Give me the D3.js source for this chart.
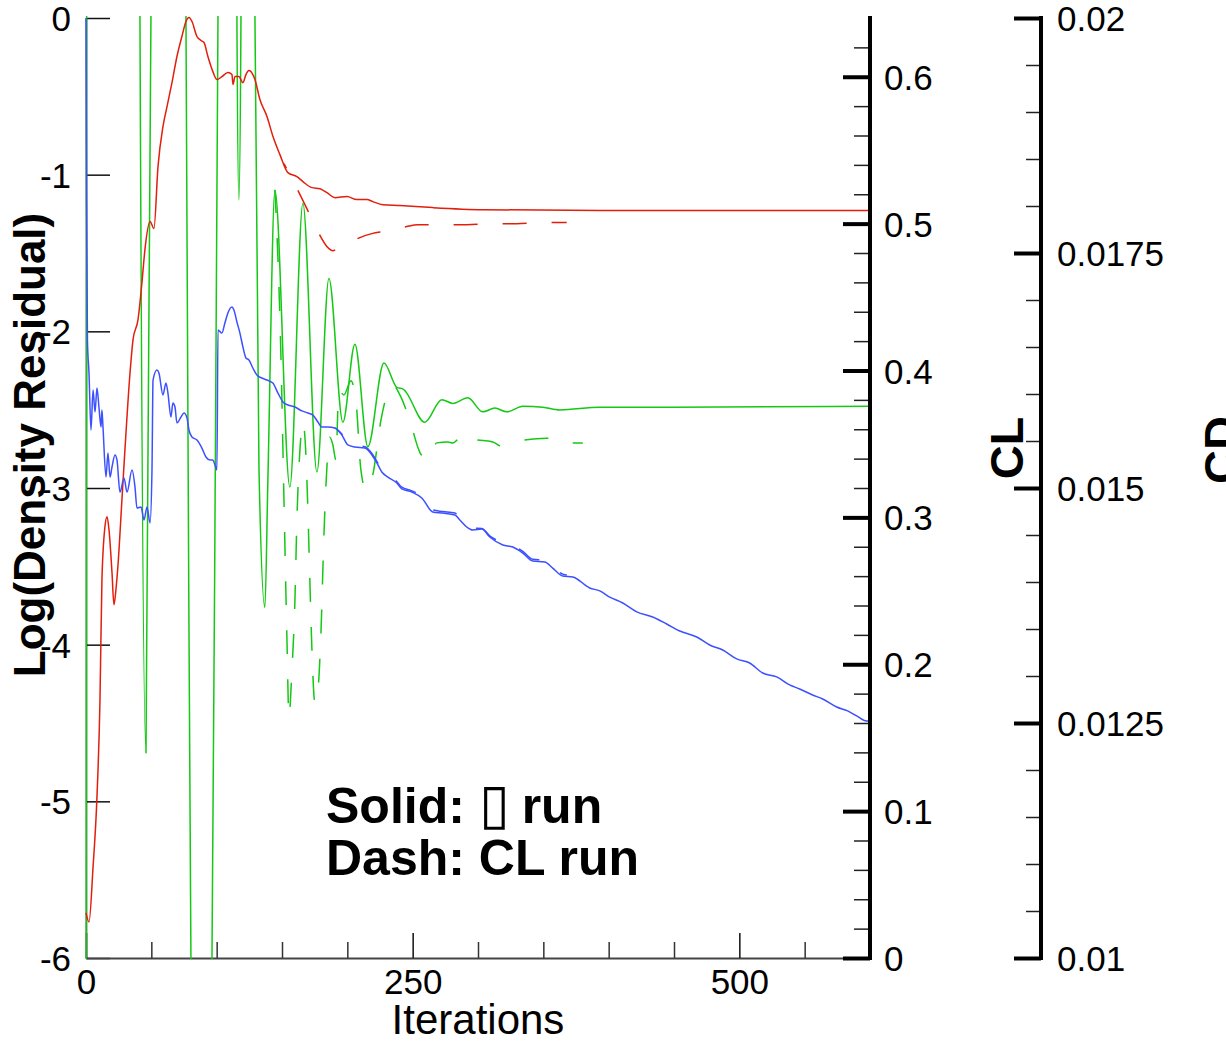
<!DOCTYPE html>
<html><head><meta charset="utf-8">
<script src="https://cdn.jsdelivr.net/npm/d3@7"></script>
<style>
body{margin:0;background:#fff}
svg{display:block;background:#fff}
text{font-family:"Liberation Sans",Arial,sans-serif;fill:#000}
</style>
</head><body>
<svg id="chart" width="1226" height="1042"></svg>
<script>
// ---------- tick values / labels ----------
const iterTicksMajor = [0, 250, 500];
const iterTickLabels = ["0", "250", "500"];
const iterTicksMinor = [50, 100, 150, 200, 300, 350, 400, 450, 550];
const resTicks = [0, -1, -2, -3, -4, -5, -6];
const resTickLabels = ["0", "-1", "-2", "-3", "-4", "-5", "-6"];
const clTicks = [0, 0.1, 0.2, 0.3, 0.4, 0.5, 0.6];
const clTickLabels = ["0", "0.1", "0.2", "0.3", "0.4", "0.5", "0.6"];
const clTicksMinor = [0.02,0.04,0.06,0.08,0.12,0.14,0.16,0.18,0.22,0.24,0.26,0.28,0.32,0.34,0.36,0.38,0.42,0.44,0.46,0.48,0.52,0.54,0.56,0.58,0.62];
const cdTicks = [0.01, 0.0125, 0.015, 0.0175, 0.02];
const cdTickLabels = ["0.01", "0.0125", "0.015", "0.0175", "0.02"];
const cdTicksMinor = [0.0105,0.011,0.0115,0.012,0.013,0.0135,0.014,0.0145,0.0155,0.016,0.0165,0.017,0.018,0.0185,0.019,0.0195];

// ---------- series: [iteration, value] ----------
// CL, solid (alpha run)
const clSolid = [[0,0.0307],[2.3,0.0245],[5.4,0.0620],[8.4,0.1097],[10.7,0.1757],[12.2,0.2575],[14.5,0.2936],[16.1,0.3004],[17.6,0.2916],[19.9,0.2623],[21.4,0.2405],[22.9,0.2507],[24.5,0.2677],[27.5,0.3120],[29.8,0.3461],[33.7,0.3985],[36.0,0.4210],[39.8,0.4346],[42.8,0.4598],[45.1,0.4823],[49.0,0.5014],[52.0,0.4966],[55.1,0.5388],[58.9,0.5661],[62.0,0.5797],[65.8,0.5960],[69.6,0.6138],[73.4,0.6274],[76.5,0.6376],[78.8,0.6403],[81.1,0.6376],[84.9,0.6274],[88.0,0.6247],[90.3,0.6233],[93.3,0.6138],[97.1,0.6035],[100.2,0.5981],[104.0,0.6001],[108.6,0.6029],[111.7,0.6015],[112.5,0.5947],[114.0,0.6001],[117.0,0.6001],[120.1,0.5960],[122.4,0.6015],[124.7,0.6042],[127.7,0.6015],[129.3,0.5981],[133.1,0.5845],[138.5,0.5729],[143.1,0.5593],[148.4,0.5470],[154.5,0.5347],[161.4,0.5320],[166.0,0.5286],[172.9,0.5245],[179.0,0.5238],[184.4,0.5211],[190.5,0.5177],[199.7,0.5184],[207.3,0.5164],[215.0,0.5164],[219.5,0.5150],[227.2,0.5129],[240.2,0.5123],[265.4,0.5109],[303.7,0.5095],[393.2,0.5089],[600,0.5089]];
// CL, dashed (CL run)
const clDash = [[151.5,0.5409],[159.9,0.5266],[168.3,0.5116],[176.7,0.4959],[185.9,0.4830],[188.9,0.4816],[194.3,0.4843],[201.9,0.4871],[209.6,0.4905],[218.8,0.4932],[227.2,0.4946],[236.4,0.4959],[245.5,0.4980],[254.0,0.4993],[273.1,0.4993],[291.4,0.4993],[310.6,0.5000],[329.7,0.5000],[347.3,0.5007],[367.9,0.5007]];
// CD, solid (alpha run)
const cdSolid = [[0,0.005],[0.8,0.030],[40.0,0.030],[41.3,0.0200],[45.9,0.01218],[49.7,0.0200],[51.0,0.030],[75.0,0.030],[76.5,0.0200],[80.3,0.0100],[81.5,0.005],[95.0,0.005],[96.4,0.0100],[101.0,0.0200],[102.3,0.030],[114.0,0.030],[115.5,0.0200],[117.0,0.01806],[118.6,0.0200],[120.0,0.030],[128.0,0.030],[129.3,0.0200],[132.4,0.01519],[136.9,0.01373],[139.2,0.01509],[144.6,0.01817],[156.0,0.01501],[166.0,0.01803],[176.7,0.01517],[185.9,0.01723],[196.6,0.01570],[205.8,0.01653],[215.7,0.01544],[228.0,0.01633],[237.9,0.01607],[243.0,0.01605],[259.3,0.01570],[272.3,0.01594],[280.7,0.01590],[292.2,0.01596],[303.7,0.01581],[312.9,0.01585],[322.0,0.01581],[334.3,0.01587],[349.6,0.01586],[362.6,0.01583],[393.2,0.01586],[450,0.01586],[600,0.01587]];
// CD, dashed (CL run)
const cdDash = [[144.6,0.01817],[149.2,0.01639],[151.5,0.01487],[153.8,0.01338],[155.3,0.01256],[157.6,0.01306],[159.9,0.01381],[161.4,0.01466],[163.7,0.01540],[166.0,0.01570],[168.3,0.01535],[169.8,0.01477],[171.3,0.01402],[172.9,0.01328],[175.2,0.01271],[177.5,0.01285],[179.8,0.01346],[182.1,0.01450],[183.6,0.01502],[186.6,0.01554],[188.9,0.01546],[191.2,0.01530],[193.5,0.01604],[197.4,0.01599],[202.7,0.01614],[206.5,0.01594],[210.4,0.01519],[214.2,0.01498],[219.5,0.01514],[225.7,0.01572],[234.8,0.01610],[240.2,0.01599],[247.8,0.01572],[255.5,0.01538],[261.6,0.01530],[268.5,0.01548],[276.9,0.01549],[280.7,0.01548],[286.1,0.01554],[291.4,0.01559],[299.9,0.01551],[307.5,0.01550],[312.9,0.01548],[316.7,0.01545],[324.3,0.01548],[335.8,0.01551],[352.6,0.01553],[366.4,0.01548],[380.2,0.01548]];
// Log(density residual), solid (alpha run)
const resSolid = [[0,0],[0.4,-1.162],[1.1,-2.055],[2.3,-2.266],[3.8,-2.630],[5.4,-2.374],[6.9,-2.515],[8.4,-2.362],[9.9,-2.483],[11.5,-2.611],[12.2,-2.502],[13.0,-2.611],[15.3,-2.930],[16.8,-2.777],[18.4,-2.930],[19.9,-2.866],[22.2,-2.789],[23.7,-2.821],[26.0,-3.026],[29.1,-2.936],[31.4,-3.026],[35.2,-2.885],[37.5,-2.994],[39.0,-3.128],[42.1,-3.121],[44.4,-3.204],[46.7,-3.121],[49.0,-3.223],[50.5,-2.885],[51.3,-2.311],[54.3,-2.247],[55.8,-2.266],[58.9,-2.406],[61.2,-2.330],[62.7,-2.394],[65.0,-2.547],[66.5,-2.457],[68.1,-2.483],[69.6,-2.585],[72.7,-2.547],[75.0,-2.521],[77.3,-2.553],[78.8,-2.630],[81.1,-2.674],[84.9,-2.694],[88.7,-2.745],[91.8,-2.802],[94.9,-2.821],[97.1,-2.821],[98.7,-2.853],[100.2,-2.885],[101.0,-1.991],[104.0,-2.011],[106.3,-1.947],[108.6,-1.883],[111.7,-1.845],[113.2,-1.864],[115.5,-1.940],[117.8,-2.011],[120.1,-2.100],[122.4,-2.170],[124.7,-2.183],[127.7,-2.234],[130.8,-2.279],[134.6,-2.298],[138.5,-2.311],[143.0,-2.330],[146.9,-2.394],[150.7,-2.451],[154.5,-2.470],[159.9,-2.483],[165.2,-2.508],[169.8,-2.521],[173.6,-2.534],[177.5,-2.579],[180.5,-2.611],[185.1,-2.611],[190.5,-2.617],[195.8,-2.662],[200.4,-2.725],[205.8,-2.738],[213.4,-2.745],[218.8,-2.789],[222.6,-2.840],[226.4,-2.898],[231.0,-2.930],[237.9,-2.968],[241.7,-3.006],[249.4,-3.026],[257.0,-3.064],[265.4,-3.153],[273.1,-3.160],[282.3,-3.172],[286.1,-3.204],[291.4,-3.249],[296.0,-3.268],[302.9,-3.262],[309.0,-3.313],[319.0,-3.364],[326.6,-3.377],[334.3,-3.415],[341.9,-3.466],[351.1,-3.472],[357.2,-3.511],[364.9,-3.562],[372.5,-3.568],[385.5,-3.638],[393.2,-3.657],[400.8,-3.696],[410.8,-3.734],[421.5,-3.791],[433.7,-3.823],[444.4,-3.868],[454.4,-3.913],[467.4,-3.951],[477.3,-4.002],[487.3,-4.034],[498.0,-4.091],[507.9,-4.117],[517.9,-4.181],[528.6,-4.206],[538.5,-4.257],[546.2,-4.283],[556.1,-4.321],[563.8,-4.347],[574.5,-4.398],[582.9,-4.423],[589.8,-4.455],[597.4,-4.487],[600,-4.487]];
// Log(density residual), dashed (CL run)
const resDash = [[190.5,-2.617],[195.8,-2.655],[200.4,-2.715],[205.8,-2.725],[213.4,-2.737],[218.8,-2.780],[222.6,-2.830],[226.4,-2.885],[231.0,-2.918],[237.9,-2.960],[241.7,-2.995],[249.4,-3.018],[257.0,-3.055],[265.4,-3.140],[273.1,-3.150],[282.3,-3.160],[286.1,-3.195],[291.4,-3.240],[296.0,-3.255],[302.9,-3.258],[309.0,-3.305],[319.0,-3.350],[326.6,-3.365],[334.3,-3.405],[341.9,-3.455],[351.1,-3.462],[357.2,-3.500],[364.9,-3.550],[368.0,-3.556]];

// iteration where a dash of each dashed curve begins (dash phase)
const dashPhase = {cl: 347.3, cd: 335.8, res: 349.0};

const colors = {cl: "#e21e0c", cd: "#14c814", res: "#3c50ff"};

// ---------- scales ----------
const svg = d3.select("#chart");
const x = d3.scaleLinear().domain([0, 600]).range([86, 870]);
const yRes = d3.scaleLinear().domain([-6, 0]).range([958, 18]);
const yCL = d3.scaleLinear().domain([0, 0.64]).range([958, 18]);
const yCD = d3.scaleLinear().domain([0.01, 0.02]).range([958, 18]);

svg.append("defs").append("clipPath").attr("id", "plotClip")
  .append("rect").attr("x", 85).attr("y", 16).attr("width", 786).attr("height", 943);

function styleAxis(g, fs) {
  g.attr("font-family", null).attr("font-size", null);
  g.selectAll("text").style("font-family", '"Liberation Sans",Arial,sans-serif')
    .style("font-size", fs + "px").attr("fill", "#000");
}

// ---------- left axis (residual) ----------
const gLeft = svg.append("g").attr("transform", "translate(86,0)")
  .call(d3.axisLeft(yRes).tickValues(resTicks)
    .tickFormat((d, i) => resTickLabels[i]).tickSizeInner(-24).tickSizeOuter(0).tickPadding(15));
styleAxis(gLeft, 35);
gLeft.select(".domain").attr("stroke", "#111").attr("stroke-width", 1.5);
gLeft.selectAll(".tick line").attr("stroke", "#111").attr("stroke-width", 1.5);
gLeft.selectAll(".tick text").attr("dy", "0.36em");

// ---------- bottom axis ----------
const gBot = svg.append("g").attr("transform", "translate(0,958)")
  .call(d3.axisBottom(x).tickValues(iterTicksMajor)
    .tickFormat((d, i) => iterTickLabels[i]).tickSizeInner(-25).tickSizeOuter(0).tickPadding(11));
styleAxis(gBot, 35);
gBot.select(".domain").attr("stroke", "#444").attr("stroke-width", 2);
gBot.selectAll(".tick line").attr("stroke", "#111").attr("stroke-width", 1.5);
const gBotMinor = svg.append("g").attr("transform", "translate(0,958)")
  .call(d3.axisBottom(x).tickValues(iterTicksMinor).tickFormat("").tickSizeInner(-16).tickSizeOuter(0));
gBotMinor.select(".domain").remove();
gBotMinor.selectAll(".tick line").attr("stroke", "#333").attr("stroke-width", 1.5);

// ---------- curves ----------
const plot = svg.append("g").attr("clip-path", "url(#plotClip)");
function drawLine(data, yScale, color, phaseIter) {
  const line = d3.line().x(d => x(d[0])).y(d => yScale(d[1])).curve(d3.curveMonotoneX);
  const p = plot.append("path").datum(data).attr("d", line)
    .attr("fill", "none").attr("stroke", color).attr("stroke-width", 1.5)
    .attr("stroke-linejoin", "round");
  if (phaseIter !== undefined) {
    const node = p.node();
    const target = x(phaseIter);
    let lo = 0, hi = node.getTotalLength();
    for (let k = 0; k < 40; k++) {
      const mid = (lo + hi) / 2;
      if (node.getPointAtLength(mid).x < target) lo = mid; else hi = mid;
    }
    const period = 49;
    p.attr("stroke-dasharray", "24,25")
     .attr("stroke-dashoffset", -(period - (lo % period)));
  }
}
drawLine(cdDash, yCD, colors.cd, dashPhase.cd);
drawLine(clDash, yCL, colors.cl, dashPhase.cl);
drawLine(resDash, yRes, colors.res, dashPhase.res);
drawLine(cdSolid, yCD, colors.cd);
drawLine(clSolid, yCL, colors.cl);
drawLine(resSolid, yRes, colors.res);

// ---------- CL axis ----------
const gCLmin = svg.append("g").attr("transform", "translate(870,0)")
  .call(d3.axisRight(yCL).tickValues(clTicksMinor).tickFormat("").tickSizeInner(-16).tickSizeOuter(0));
gCLmin.select(".domain").remove();
gCLmin.selectAll(".tick line").attr("stroke", "#222").attr("stroke-width", 1.5);
const gCL = svg.append("g").attr("transform", "translate(870,0)")
  .call(d3.axisRight(yCL).tickValues(clTicks).tickFormat((d, i) => clTickLabels[i])
    .tickSizeInner(-27).tickSizeOuter(0).tickPadding(14));
styleAxis(gCL, 35);
gCL.select(".domain").attr("stroke", "#000").attr("stroke-width", 4).attr("d", "M0,16V960");
gCL.selectAll(".tick line").attr("stroke", "#000").attr("stroke-width", 4);
gCL.selectAll(".tick text").attr("dy", "0.36em");

// ---------- CD axis ----------
const gCDmin = svg.append("g").attr("transform", "translate(1041,0)")
  .call(d3.axisRight(yCD).tickValues(cdTicksMinor).tickFormat("").tickSizeInner(-15).tickSizeOuter(0));
gCDmin.select(".domain").remove();
gCDmin.selectAll(".tick line").attr("stroke", "#222").attr("stroke-width", 1.5);
const gCD = svg.append("g").attr("transform", "translate(1041,0)")
  .call(d3.axisRight(yCD).tickValues(cdTicks).tickFormat((d, i) => cdTickLabels[i])
    .tickSizeInner(-27).tickSizeOuter(0).tickPadding(16));
styleAxis(gCD, 35);
gCD.select(".domain").attr("stroke", "#000").attr("stroke-width", 4).attr("d", "M0,16V960");
gCD.selectAll(".tick line").attr("stroke", "#000").attr("stroke-width", 4);
gCD.selectAll(".tick text").attr("dy", "0.36em");

// ---------- titles ----------
svg.append("text").attr("transform", "translate(45,445) rotate(-90)")
  .attr("text-anchor", "middle").attr("font-weight", "bold").attr("font-size", 44)
  .text("Log(Density Residual)");
svg.append("text").attr("transform", "translate(1023,448) rotate(-90)")
  .attr("text-anchor", "middle").attr("font-weight", "bold").attr("font-size", 47)
  .text("CL");
svg.append("text").attr("transform", "translate(1237,450) rotate(-90)")
  .attr("text-anchor", "middle").attr("font-weight", "bold").attr("font-size", 47)
  .text("CD");
svg.append("text").attr("x", 478).attr("y", 1034)
  .attr("text-anchor", "middle").attr("font-size", 42)
  .text("Iterations");

// ---------- legend note ----------
const n1 = svg.append("text").attr("x", 326).attr("y", 823).attr("font-weight", "bold").attr("font-size", 50);
n1.append("tspan").text("Solid: ");
n1.append("tspan").attr("font-size", 56).attr("font-weight", "normal").text("\u25AF");
n1.append("tspan").attr("dx", -2).text(" run");
svg.append("text").attr("x", 326).attr("y", 875).attr("font-weight", "bold").attr("font-size", 50)
  .text("Dash: CL run");
</script>
</body></html>
